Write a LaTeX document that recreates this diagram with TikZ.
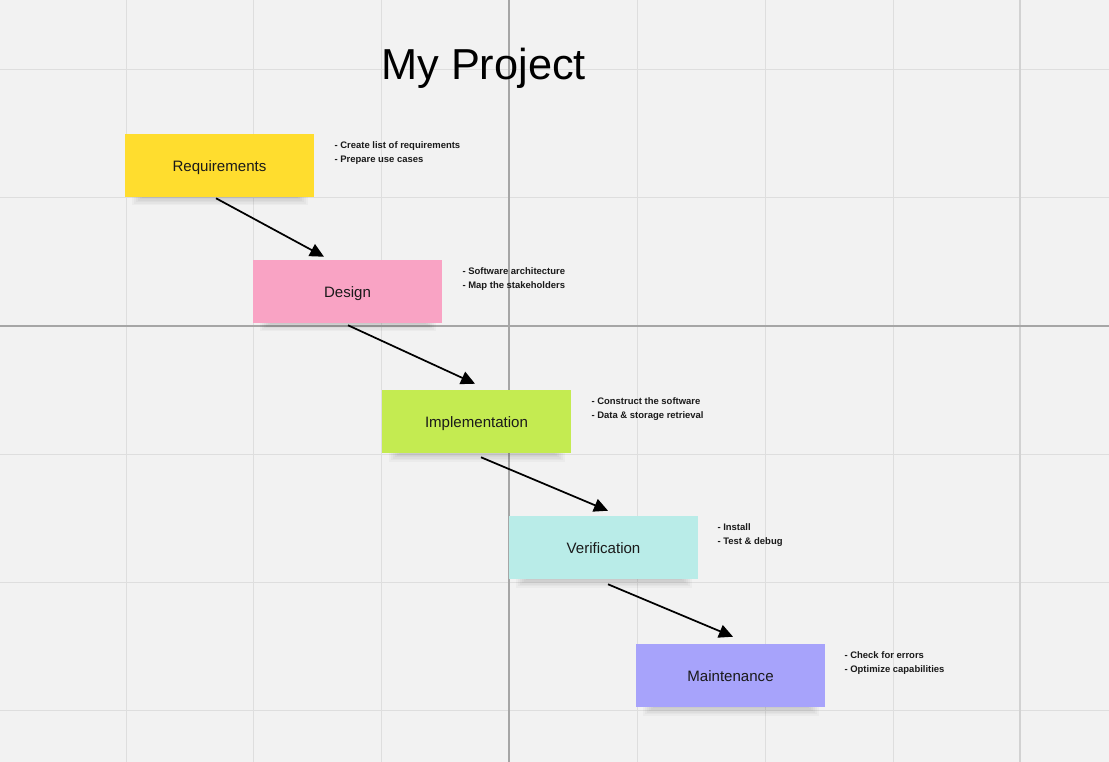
\documentclass[tikz,border=0pt]{standalone}
\usepackage{fontspec}
\setmainfont{Liberation Sans}
\usetikzlibrary{arrows.meta,calc}
\definecolor{bg}{HTML}{F2F2F2}
\definecolor{gridc}{HTML}{DEDEDE}
\definecolor{axisc}{HTML}{A6A6A6}
\definecolor{gridd}{HTML}{D2D2D2}
\definecolor{cyel}{HTML}{FFDD2E}
\definecolor{cpink}{HTML}{F9A3C4}
\definecolor{cgreen}{HTML}{C4EB51}
\definecolor{ccyan}{HTML}{B9ECE8}
\definecolor{cpurp}{HTML}{A7A3FB}
\definecolor{ink}{HTML}{1A1A1A}
\begin{document}
\begin{tikzpicture}[x=0.75pt,y=-0.75pt,
  sticky/.style={minimum width=141.75pt,minimum height=47.25pt,inner sep=0pt,
    font=\fontsize{11.3pt}{13pt}\selectfont,text=ink,text depth=0pt},
  notes/.style={anchor=north west,inner sep=0pt,align=left,
    font=\fontsize{7.1pt}{10.5pt}\selectfont\bfseries,text=ink},
  flow/.style={-{Triangle[length=10.5pt,width=10pt]},line width=1.3pt,black},
  shadowpart/.style={fill=black,opacity=0.028,draw=none}]
\fill[bg] (0,0) rectangle (1109,762);
\useasboundingbox (0,0) rectangle (1109,762);
% grid
\foreach \gx in {126,253.5,381.5,637,765,893}
  \draw[gridc,line width=0.75pt] (\gx,0) -- (\gx,762);
\foreach \gy in {70,198,454,582,710}
  \draw[gridc,line width=0.75pt] (0,\gy) -- (1109,\gy);
\draw[gridd,line width=1.2pt] (1020,0) -- (1020,762);
\draw[axisc,line width=0.9pt] (509,0) -- (509,762);
\draw[axisc,line width=0.9pt] (0,326) -- (1109,326);
% title
\node[anchor=base west,inner sep=0pt,font=\fontsize{32.5pt}{36pt}\selectfont,text=black] (title) at (381,80) {My Project};
% shadows
\foreach \cx/\by in {219.5/197,347.5/323,476.5/453,603.5/579,730.5/707}{
  \foreach \k in {0,1,2,3,4,5}{
    \fill[shadowpart] (\cx-78-2*\k,\by-2) rectangle (\cx+78+2*\k,\by+1.5*\k+1);
  }
}
% boxes
\node[sticky,fill=cyel] (req) at (219.5,165.5) {\raisebox{-1.2pt}{Requirements}};
\node[sticky,fill=cpink] (des) at (347.5,291.5) {\raisebox{-1.2pt}{Design}};
\node[sticky,fill=cgreen] (imp) at (476.5,421.5) {\raisebox{-1.2pt}{Implementation}};
\node[sticky,fill=ccyan] (ver) at (603.5,547.5) {\raisebox{-1.2pt}{Verification}};
\node[sticky,fill=cpurp] (mai) at (730.5,675.5) {\raisebox{-1.2pt}{Maintenance}};
% notes
\node[notes] (nreq) at ($(req.north east)+(20,8)$) {- Create list of requirements\\- Prepare use cases};
\node[notes] (ndes) at ($(des.north east)+(20,8)$) {- Software architecture\\- Map the stakeholders};
\node[notes] (nimp) at ($(imp.north east)+(20,8)$) {- Construct the software\\- Data \& storage retrieval};
\node[notes] (nver) at ($(ver.north east)+(19,8)$) {- Install\\- Test \& debug};
\node[notes] (nmai) at ($(mai.north east)+(19,8)$) {- Check for errors\\- Optimize capabilities};
% arrows
\draw[flow] ($(req.south)+(-3.5,1)$) -- ($(des.north)+(-23.5,-3)$);
\draw[flow] ($(des.south)+(0.5,2)$) -- ($(imp.north)+(-1.5,-6)$);
\draw[flow] ($(imp.south)+(4.5,4)$) -- ($(ver.north)+(4.5,-5)$);
\draw[flow] ($(ver.south)+(4.5,5)$) -- ($(mai.north)+(2.5,-7)$);
\end{tikzpicture}
\end{document}
